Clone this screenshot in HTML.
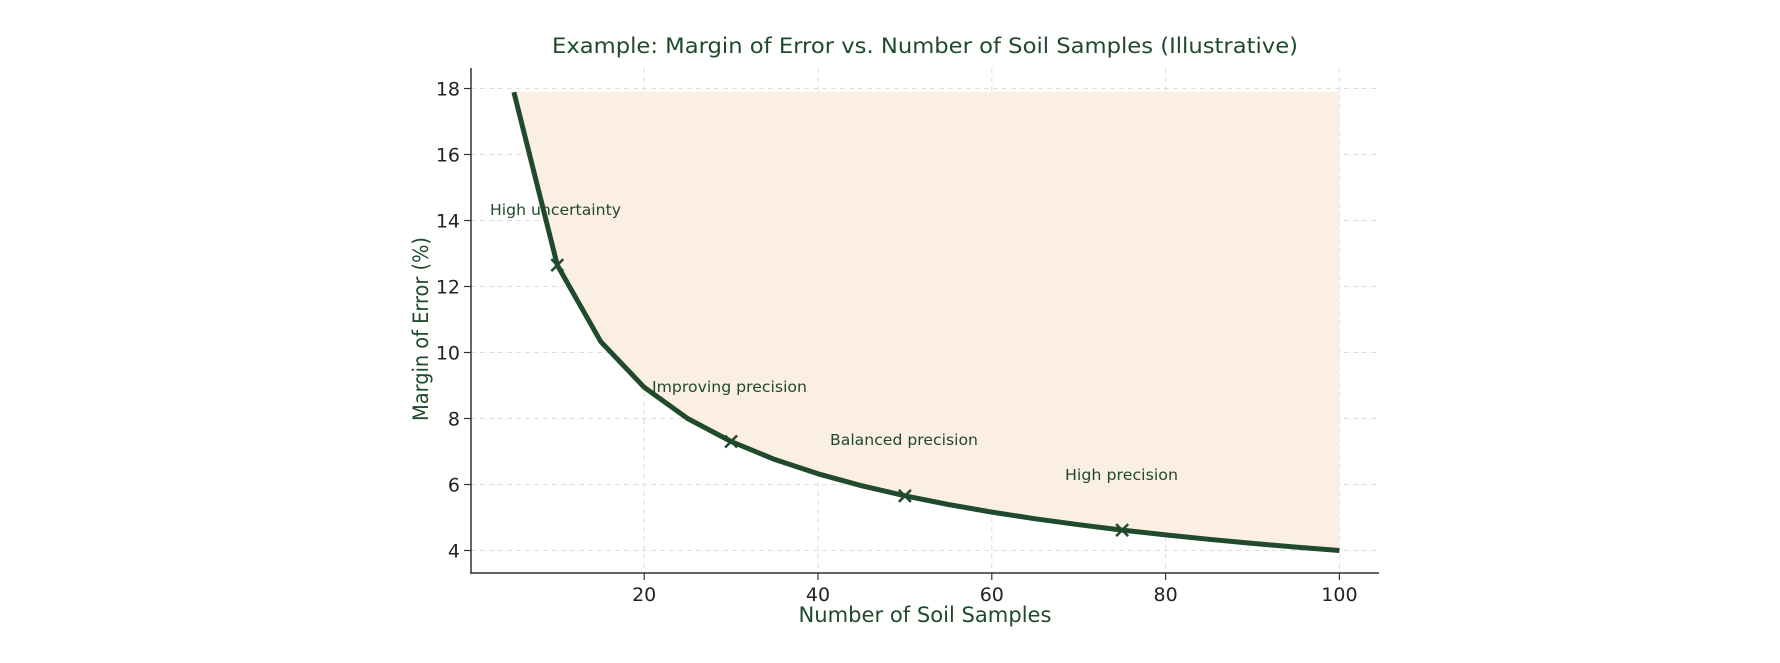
<!DOCTYPE html>
<html><head><meta charset="utf-8"><style>
html,body{margin:0;padding:0;background:#fff;}
svg{display:block;font-family:"DejaVu Sans","Liberation Sans",sans-serif;}
</style></head><body>
<svg id="s" width="1780" height="663" xmlns="http://www.w3.org/2000/svg"></svg>
<script>
const s=document.getElementById('s');
const X=v=>470.4+8.69*v, Y=v=>88.5+(18-v)*33.0;
let h='';
const green='#1f4a2c';
// grid
for(let v=20;v<=100;v+=20) h+=`<line x1="${X(v)}" y1="68" x2="${X(v)}" y2="573" stroke="#ddd" stroke-width="1" stroke-dasharray="5,4"/>`;
for(let v=4;v<=18;v+=2) h+=`<line x1="471" y1="${Y(v)}" x2="1379" y2="${Y(v)}" stroke="#ddd" stroke-width="1" stroke-dasharray="5,4"/>`;
// curve points
const ns=[];for(let n=5;n<=100;n+=5)ns.push(n);
const f=n=>40/Math.sqrt(n);
let pts=ns.map(n=>`${X(n).toFixed(1)},${Y(f(n)).toFixed(1)}`);
let fill=`M${X(5)},${Y(17.9)} L${X(100)},${Y(17.9)} L`+pts.slice().reverse().join(' L')+'Z';
h+=`<path d="${fill}" fill="#fbeee2"/>`;
h+=`<polyline points="${pts.join(' ')}" fill="none" stroke="${green}" stroke-width="5" stroke-linejoin="round"/>`;
[10,30,50,75].forEach(n=>{const x=X(n),y=Y(f(n));h+=`<path d="M${x-6},${y-6}L${x+6},${y+6}M${x-6},${y+6}L${x+6},${y-6}" stroke="${green}" stroke-width="2.5"/>`;});
// spines
h+=`<line x1="471" y1="68" x2="471" y2="573" stroke="#333" stroke-width="1.5"/>`;
h+=`<line x1="470" y1="573" x2="1379" y2="573" stroke="#333" stroke-width="1.5"/>`;
for(let v=20;v<=100;v+=20){h+=`<line x1="${X(v)}" y1="573" x2="${X(v)}" y2="580" stroke="#333" stroke-width="1.2"/><text x="${X(v)}" y="601" font-size="19" text-anchor="middle" fill="#222">${v}</text>`;}
for(let v=4;v<=18;v+=2){h+=`<line x1="464" y1="${Y(v)}" x2="471" y2="${Y(v)}" stroke="#333" stroke-width="1.2"/><text x="460" y="${Y(v)+7}" font-size="19" text-anchor="end" fill="#222">${v}</text>`;}
h+=`<text x="925" y="53" font-size="21" text-anchor="middle" fill="${green}" textLength="746" lengthAdjust="spacingAndGlyphs">Example: Margin of Error vs. Number of Soil Samples (Illustrative)</text>`;
h+=`<text x="925" y="622" font-size="21" text-anchor="middle" fill="${green}" textLength="253" lengthAdjust="spacingAndGlyphs">Number of Soil Samples</text>`;
h+=`<text transform="translate(428,329) rotate(-90)" font-size="21" text-anchor="middle" fill="${green}" textLength="184" lengthAdjust="spacingAndGlyphs">Margin of Error (%)</text>`;
const ann=[[490,215,'High uncertainty',131],[652,392,'Improving precision',155],[830,445,'Balanced precision',148],[1065,480,'High precision',113]];
ann.forEach(a=>h+=`<text x="${a[0]}" y="${a[1]}" font-size="15" fill="${green}" textLength="${a[3]}" lengthAdjust="spacingAndGlyphs">${a[2]}</text>`);
s.innerHTML=h;
</script>
</body></html>
